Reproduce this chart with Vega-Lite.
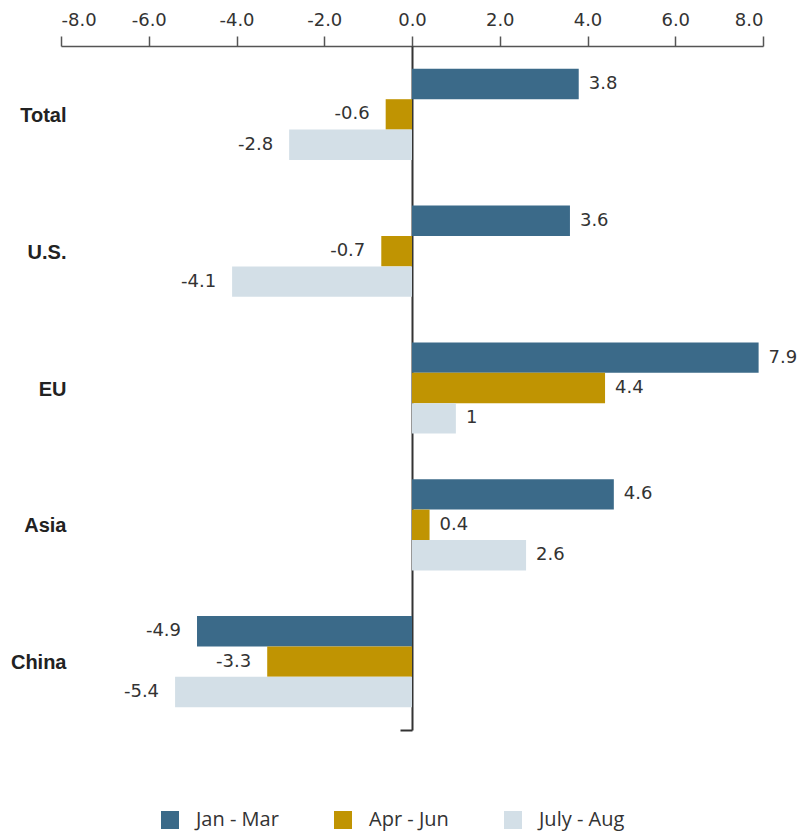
{
  "$schema": "https://vega.github.io/schema/vega-lite/v6.json",
  "width": 702,
  "height": 684,
  "autosize": {"type": "none"},
  "padding": {"left": 61, "top": 46, "right": 41, "bottom": 103},
  "background": "white",
  "config": {"view": {"stroke": null}},
  "data": {
    "values": [
      {"region": "Total", "period": "Jan - Mar", "value": 3.8},
      {"region": "Total", "period": "Apr - Jun", "value": -0.6},
      {"region": "Total", "period": "July - Aug", "value": -2.8},
      {"region": "U.S.", "period": "Jan - Mar", "value": 3.6},
      {"region": "U.S.", "period": "Apr - Jun", "value": -0.7},
      {"region": "U.S.", "period": "July - Aug", "value": -4.1},
      {"region": "EU", "period": "Jan - Mar", "value": 7.9},
      {"region": "EU", "period": "Apr - Jun", "value": 4.4},
      {"region": "EU", "period": "July - Aug", "value": 1},
      {"region": "Asia", "period": "Jan - Mar", "value": 4.6},
      {"region": "Asia", "period": "Apr - Jun", "value": 0.4},
      {"region": "Asia", "period": "July - Aug", "value": 2.6},
      {"region": "China", "period": "Jan - Mar", "value": -4.9},
      {"region": "China", "period": "Apr - Jun", "value": -3.3},
      {"region": "China", "period": "July - Aug", "value": -5.4}
    ]
  },
  "encoding": {
    "y": {
      "field": "region",
      "type": "nominal",
      "sort": ["Total", "U.S.", "EU", "Asia", "China"],
      "scale": {"paddingInner": 0.3333, "paddingOuter": 0.1667},
      "axis": {
        "title": null,
        "orient": "left",
        "offset": -351,
        "domainColor": "#333333",
        "domainWidth": 2,
        "tickSize": 12,
        "tickOffset": 68.5,
        "tickColor": "#333333",
        "tickWidth": 2,
        "tickOpacity": {"condition": {"test": "datum.value === 'China'", "value": 1}, "value": 0},
        "labelPadding": 334,
        "labelOffset": -67.5,
        "labelFont": "Liberation Sans",
        "labelFontWeight": "bold",
        "labelFontSize": 20,
        "labelColor": "#222222",
        "labelAlign": "right"
      }
    },
    "yOffset": {
      "field": "period",
      "type": "nominal",
      "sort": ["Jan - Mar", "Apr - Jun", "July - Aug"],
      "scale": {"paddingInner": 0, "paddingOuter": 0}
    },
    "x": {
      "field": "value",
      "type": "quantitative",
      "scale": {"domain": [-8, 8], "nice": false, "zero": false},
      "axis": {
        "title": null,
        "orient": "top",
        "values": [-8, -6, -4, -2, 0, 2, 4, 6, 8],
        "labelExpr": "replace(format(datum.value, '.1f'), '\u2212', '-')",
        "grid": false,
        "domainColor": "#555555",
        "domainWidth": 1.5,
        "tickColor": "#555555",
        "tickWidth": 1.5,
        "tickSize": 10,
        "labelFont": "DejaVu Sans",
        "labelFontSize": 18,
        "labelColor": "#333333",
        "labelPadding": 7
      }
    }
  },
  "layer": [
    {
      "mark": {"type": "bar"},
      "encoding": {
        "color": {
          "field": "period",
          "type": "nominal",
          "sort": ["Jan - Mar", "Apr - Jun", "July - Aug"],
          "scale": {"domain": ["Jan - Mar", "Apr - Jun", "July - Aug"], "range": ["#3b6a89", "#c09402", "#d3dfe7"]},
          "legend": {
            "title": null,
            "orient": "none",
            "direction": "horizontal",
            "legendX": 99,
            "legendY": 764,
            "symbolType": "square",
            "symbolSize": 324,
            "symbolStrokeWidth": 0,
            "symbolOpacity": 1,
            "labelFont": "Open Sans",
            "labelFontSize": 20,
            "labelColor": "#333333",
            "labelOffset": 16,
            "columnPadding": 54
          }
        }
      }
    },
    {
      "mark": {
        "type": "text",
        "font": "DejaVu Sans",
        "fontSize": 18,
        "color": "#333333",
        "baseline": "middle",
        "align": {"expr": "datum.value < 0 ? 'right' : 'left'"},
        "dx": {"expr": "datum.value < 0 ? -16 : 10"}
      },
      "encoding": {
        "text": {"field": "value", "type": "nominal"}
      }
    }
  ]
}
